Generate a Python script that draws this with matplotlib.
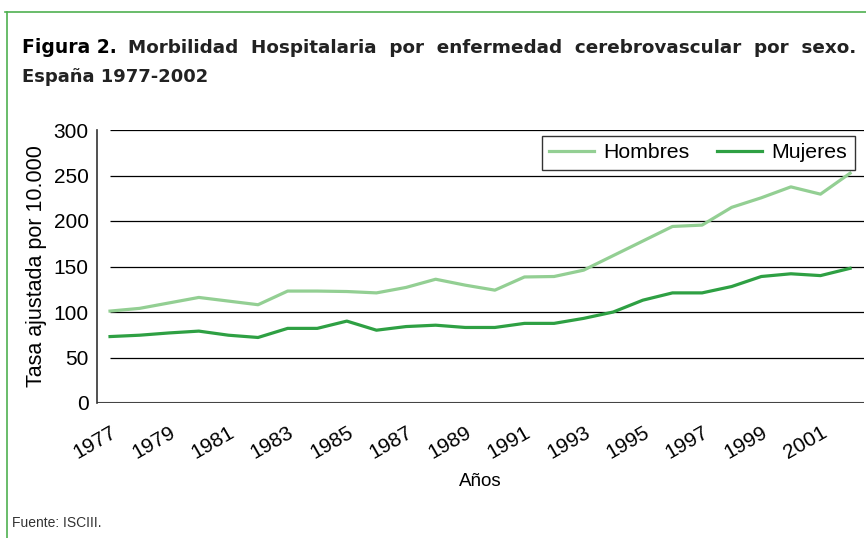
import matplotlib
matplotlib.use('Agg')
import matplotlib.pyplot as plt
from matplotlib.lines import Line2D

plt.rcParams['font.family'] = ['Liberation Sans', 'DejaVu Sans']

# data
years = list(range(1977, 2003))
hombres = [101, 104, 110, 116, 112, 108, 123, 123, 122.5, 121, 127, 136,
           129.5, 124, 138.5, 139, 146, 162, 178, 194, 195.5, 215, 225.5,
           237.5, 229.5, 252.5]
mujeres = [73, 74.5, 77, 79, 74.5, 72, 82, 82, 90, 80, 84, 85.5,
           83, 83, 87.5, 87.5, 93, 100, 113, 121, 121, 128, 139,
           142, 140, 148]
tick_years = list(range(1977, 2002, 2))
yticks = [0, 50, 100, 150, 200, 250, 300]

c_h = '#93cf93'
c_m = '#2ea043'

fig = plt.figure(figsize=(8.66, 5.38), dpi=100)

# green frame of the figure box
fig.add_artist(Line2D([5/866, 1], [1-11.5/538, 1-11.5/538], color='#4fb050', lw=1.2))
fig.add_artist(Line2D([7.5/866, 7.5/866], [0, 1-11.5/538], color='#4fb050', lw=1.2))

# title (first line justified in the original, so wider word gaps)
fig.text(22/866, 1-53/538, 'Figura 2.', fontsize=13.5, fontweight='heavy',
         va='baseline', family='DejaVu Sans')
fig.text(128/866, 1-53/538,
         'Morbilidad  Hospitalaria  por  enfermedad  cerebrovascular  por  sexo.',
         fontsize=13.2, fontweight='bold', va='baseline', color='#222222',
         family='DejaVu Sans')
fig.text(22/866, 1-82/538, 'España 1977-2002', fontsize=13.0, fontweight='bold',
         va='baseline', color='#222222', family='DejaVu Sans')
fig.text(12/866, 1-527/538, 'Fuente: ISCIII.', fontsize=10, va='baseline', color='#333333')

ax = fig.add_axes([97/866, 1-403/538, 767/866, 273/538])
ax.set_xlim(1976.56, 2002.47)
ax.set_ylim(0, 300)

ax.hlines(yticks[1:], years[0], 2002.47, color='black', lw=0.9, zorder=1)
ax.hlines([0], 1976.56, 2002.47, color='#444444', lw=1.5, zorder=1)

ax.plot(years, hombres, color=c_h, lw=2.3, label='Hombres', zorder=3)
ax.plot(years, mujeres, color=c_m, lw=2.3, label='Mujeres', zorder=3)

for s in ['top', 'right', 'bottom']:
    ax.spines[s].set_visible(False)
ax.spines['left'].set_color('#333333')
ax.spines['left'].set_linewidth(1.2)

ax.set_yticks(yticks)
ax.set_xticks(tick_years)
ax.set_xticklabels([str(y) for y in tick_years], rotation=30, ha='right',
                   rotation_mode='anchor', fontsize=15)
ax.tick_params(axis='both', length=0, labelsize=15)
ax.tick_params(axis='x', pad=14)
ax.tick_params(axis='y', pad=6)

ax.set_ylabel('Tasa ajustada por 10.000', fontsize=15.5, labelpad=5)
ax.set_xlabel('Años', fontsize=13.5, labelpad=8)

leg = ax.legend(loc='upper right', bbox_to_anchor=(0.988, 0.978), ncol=2,
                fontsize=15.3, frameon=True, fancybox=False, handlelength=2.1,
                columnspacing=1.3, borderpad=0.35, handletextpad=0.45,
                borderaxespad=0)
leg.get_frame().set_edgecolor('black')
leg.get_frame().set_linewidth(1.0)

fig.savefig('out.png', dpi=100)
